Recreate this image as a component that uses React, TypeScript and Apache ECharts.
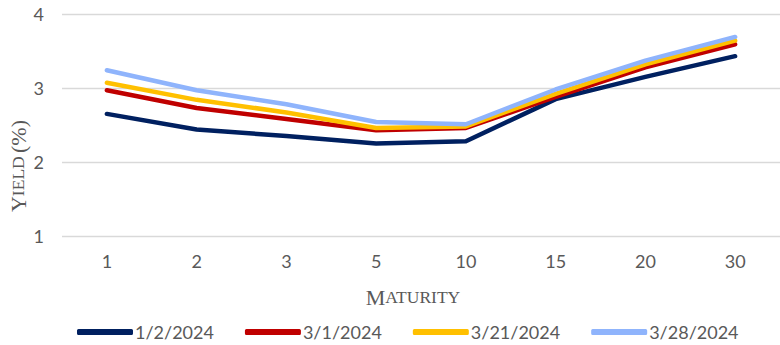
import React, { useEffect, useRef } from "react";
import * as echarts from "echarts";

const maturities = ["1", "2", "3", "5", "10", "15", "20", "30"];
const seriesNames = ["1/2/2024", "3/1/2024", "3/21/2024", "3/28/2024"];
const yields0102 = [2.65, 2.44, 2.35, 2.25, 2.28, 2.85, 3.15, 3.43];
const yields0301 = [2.97, 2.73, 2.58, 2.43, 2.46, 2.88, 3.28, 3.59];
const yields0321 = [3.07, 2.84, 2.67, 2.46, 2.48, 2.92, 3.32, 3.64];
const yields0328 = [3.24, 2.97, 2.78, 2.54, 2.51, 2.98, 3.37, 3.69];
const colors = ["#002060", "#C00000", "#FFC000", "#8FB4FC"];
const yTicks = { min: 1, max: 4, interval: 1 };

const labelFont = "Lato, 'Open Sans', sans-serif";
const titleFont = "'Liberation Serif', 'DejaVu Serif', serif";

export default function App() {
  const ref = useRef<HTMLDivElement>(null);
  useEffect(() => {
    if (!ref.current) return;
    const chart = echarts.init(ref.current, undefined, { renderer: "svg" });
    const data = [yields0102, yields0301, yields0321, yields0328];
    const rich = {
      b: { fontSize: 22, fontFamily: titleFont, fill: "#595959", color: "#595959" },
      s: { fontSize: 17.5, fontFamily: titleFont, fill: "#595959", color: "#595959" },
    };
    chart.setOption({
      animation: false,
      backgroundColor: "#ffffff",
      grid: { left: 62, top: 14, width: 725, height: 222, containLabel: false },
      xAxis: {
        type: "category",
        data: maturities,
        boundaryGap: true,
        axisLine: { show: false },
        axisTick: { show: false },
        axisLabel: { color: "#595959", fontSize: 18, fontFamily: labelFont, margin: 16 },
      },
      yAxis: {
        type: "value",
        min: yTicks.min,
        max: yTicks.max,
        interval: yTicks.interval,
        axisLine: { show: false },
        axisTick: { show: false },
        axisLabel: { color: "#595959", fontSize: 18, fontFamily: labelFont, margin: 18 },
        splitLine: { lineStyle: { color: "#D9D9D9", width: 1.3 } },
      },
      legend: {
        left: 72,
        top: 318,
        itemWidth: 56,
        itemHeight: 6,
        itemGap: 31,
        icon: "roundRect",
        textStyle: { color: "#595959", fontSize: 18, fontFamily: labelFont, padding: [0, 0, 0, -3] },
        data: seriesNames,
      },
      graphic: [
        {
          type: "text",
          x: 18,
          y: 166,
          rotation: Math.PI / 2,
          style: {
            text: "{b|Y}{s|IELD} {b|(%)}",
            align: "center",
            verticalAlign: "middle",
            rich,
          },
        },
        {
          type: "text",
          x: 413,
          y: 297,
          style: {
            text: "{b|M}{s|ATURITY}",
            align: "center",
            verticalAlign: "middle",
            rich,
          },
        },
      ],
      series: seriesNames.map((name, i) => ({
        name,
        type: "line",
        data: data[i],
        showSymbol: false,
        symbol: "none",
        color: colors[i],
        lineStyle: { width: 4.5, color: colors[i], cap: "round", join: "round" },
        z: 2 + i,
      })),
    });
    return () => chart.dispose();
  }, []);
  return (
    <div
      ref={ref}
      style={{ position: "absolute", left: 0, top: 0, width: 780, height: 345 }}
    />
  );
}
